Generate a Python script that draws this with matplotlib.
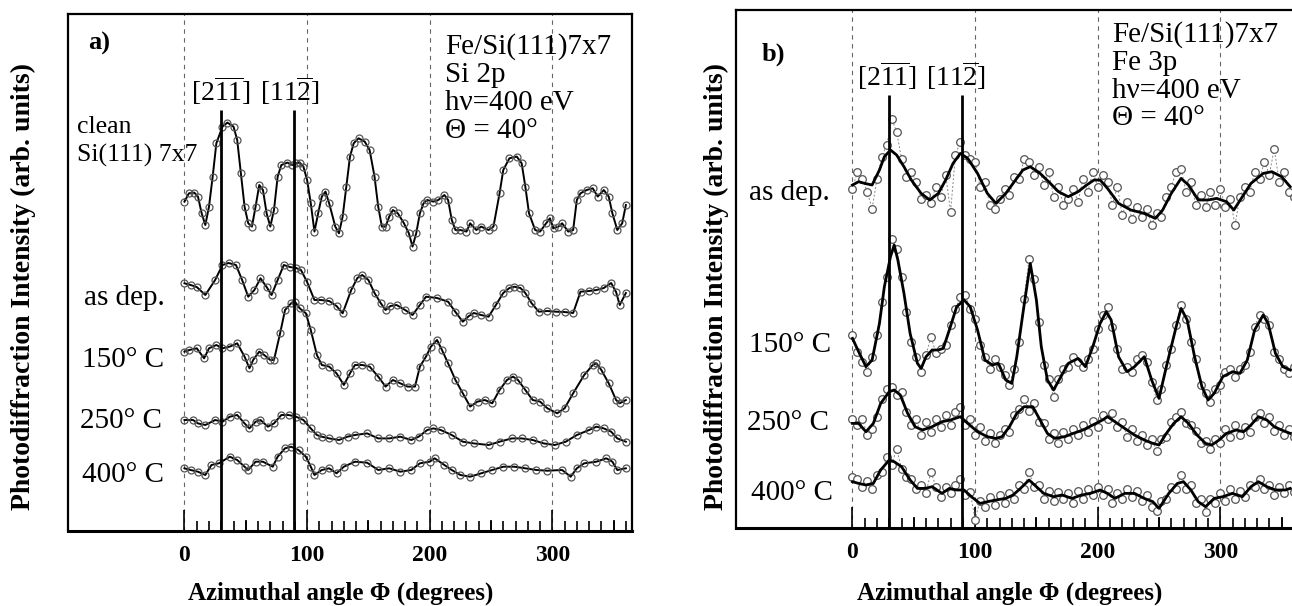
import matplotlib
matplotlib.use('Agg')
import matplotlib.pyplot as plt
import numpy as np
from matplotlib.transforms import blended_transform_factory

plt.rcParams['font.family'] = ['Liberation Serif', 'DejaVu Serif']
plt.rcParams['mathtext.fontset'] = 'custom'
plt.rcParams['mathtext.rm'] = 'Liberation Serif'
plt.rcParams['mathtext.it'] = 'Liberation Serif:italic'
plt.rcParams['mathtext.bf'] = 'Liberation Serif:bold'

# ---------------- data : panel a (Si 2p) ----------------
phi_a_clean = [0, 3.6, 8, 11, 14, 17, 20, 23, 26, 31, 35, 40, 43, 46, 49, 52, 55, 58, 61, 64, 67, 70, 73, 76, 79,
               84, 88, 91, 94, 97, 100, 103, 106, 109, 112, 115, 118, 123, 126, 129, 132, 135, 138, 142, 147, 151,
               155, 158, 161, 164, 167, 170, 174, 179, 183, 186, 189, 192, 195, 198, 203, 207, 212, 215, 218, 221,
               225, 230, 233, 238, 242, 248, 252, 257, 260, 265, 271, 275, 278, 281, 286, 290, 295, 298, 301, 305,
               308, 313, 317, 320, 323, 328, 333, 337, 342, 346, 349, 353, 357, 360]
int_a_clean = [31.7, 40, 40.7, 36.7, 20, 8.3, 26.7, 56.7, 90, 106.7, 110.7, 106.7, 93.3, 60, 26.7, 10, 6.7, 26.7,
               48.3, 43.3, 20, 6.7, 23.3, 56.7, 68.3, 70.7, 68.3, 70, 70.7, 66.7, 53.3, 30, 1.7, 20, 36.7, 41.7, 30,
               6.7, 0, 16.7, 46.7, 76.7, 90, 95, 91.7, 83.3, 56.7, 26.7, 6.7, 6.7, 16.7, 23.3, 20, 10, 0, -13.3, 0,
               20, 30, 33.3, 31.7, 33.3, 38.3, 33.3, 13.3, 3.3, 3.3, 1.7, 10, 3.3, 6.7, 3.3, 6.7, 40, 63.3, 75, 76.7,
               70, 46.7, 20, 3.3, 1.7, 10, 15, 5, 6.7, 10, 1.7, 3.3, 33.3, 40, 43.3, 45, 36.7, 43.3, 36.7, 20, 3.3,
               10, 28.3]

phi_a_asdep = [0, 5, 10, 17, 25, 31, 36, 42, 47, 52, 57, 62, 67, 71, 76, 81, 86, 91, 95, 100, 106, 111, 118, 124,
               129, 136, 141, 145, 150, 155, 160, 164, 168, 173, 180, 186, 192, 197, 206, 215, 221, 227, 232, 236,
               242, 248, 254, 260, 265, 269, 274, 278, 283, 289, 296, 303, 310, 317, 323, 330, 336, 342, 348, 352,
               355, 360]
int_a_asdep = [31.7, 30, 28, 20, 35, 50, 52, 50, 35, 18.3, 25, 36.7, 28, 20, 35, 50, 48, 47, 45, 33, 15, 15, 14, 9,
               1.7, 25, 37, 40, 35, 22, 12, 5, 9, 10, 5, 0, 10, 18.3, 17, 13.3, 3, -6.7, -1, 2, 0, -1.7, 10, 22, 27,
               28.3, 27, 22, 12, 3.3, 4, 3.3, 3, 2, 23.3, 24, 25, 27, 32, 23, 10, 22]

phi_a_150 = [0, 4, 10, 16, 20, 26, 31, 37, 43, 49, 53, 56, 61, 65, 70, 73, 78, 82, 87, 90, 94, 99, 103, 108, 112,
             118, 124, 130, 135, 139, 145, 151, 158, 164, 170, 176, 182, 188, 192, 197, 201, 206, 210, 215, 221, 227,
             233, 239, 245, 251, 257, 263, 268, 272, 278, 284, 290, 296, 304, 310, 317, 326, 333, 336, 340, 346, 352,
             355, 360]
int_a_150 = [61.7, 63.3, 65, 55, 65, 68.3, 65, 66.7, 70, 56.7, 45, 53.3, 61.7, 58.3, 53.3, 53.3, 80, 103.3, 110,
             111.7, 105, 100, 83.3, 58.3, 48.3, 46.7, 40, 28.3, 40, 48.3, 48.3, 46.7, 36.7, 26.7, 33.3, 30, 26.7,
             26.7, 46.7, 56.7, 66.7, 73.3, 63.3, 50, 33.3, 20, 6.7, 11.7, 13.3, 10, 23.3, 33.3, 36.7, 33.3, 23.3,
             13.3, 11.7, 5, 0, 5, 20, 38.3, 48.3, 50, 43.3, 30, 13.3, 10, 13.3]

phi_a_250 = [0, 7, 11, 17, 25, 31, 37, 43, 49, 53, 58, 62, 68, 73, 79, 85, 91, 97, 103, 108, 112, 118, 126, 133,
             139, 149, 158, 167, 176, 185, 191, 198, 203, 209, 218, 227, 236, 248, 257, 267, 275, 284, 293, 302, 311,
             320, 330, 336, 342, 348, 353, 360]
int_a_250 = [26.7, 26.7, 23.3, 21.7, 26.7, 25, 30, 31.7, 23.3, 18.3, 25, 26.7, 20, 23.3, 31.7, 31.7, 30, 26.7, 18.3,
             11.7, 10, 8.3, 6.7, 10, 11.7, 13.3, 8.3, 8.3, 10, 6.7, 10, 16.7, 18.3, 16.7, 11.7, 5, 3.3, 1.7, 5, 8.3,
             8.3, 6.7, 3.3, 1.7, 5, 11.7, 16.7, 20, 18.3, 15, 8.3, 5]

phi_a_400 = [0, 5, 11, 17, 22, 28, 37, 43, 49, 52, 58, 64, 72, 76, 82, 87, 93, 99, 103, 106, 112, 118, 124, 130,
             139, 149, 158, 167, 176, 185, 192, 200, 204, 212, 218, 225, 233, 242, 251, 260, 269, 278, 287, 296, 308,
             315, 320, 326, 336, 344, 349, 353, 360]
int_a_400 = [11.7, 10, 8.3, 5, 15, 16.7, 23.3, 20, 13.3, 10, 18.3, 18.3, 13.3, 23.3, 31.7, 33.3, 30, 23.3, 13.3, 5,
             10, 11.7, 6.7, 13.3, 18.3, 17.3, 10, 11.7, 8.3, 10, 16.7, 18.3, 21.7, 15, 10, 5, 3.3, 6.7, 10, 13.3,
             13.3, 11.7, 10, 9.3, 10, 3.3, 11.7, 16.7, 18.3, 21.7, 18.3, 10, 11.7]

# ---------------- data : panel b (Fe 3p) ----------------
# fitted (smooth) curves
phi_b_asdep = [0, 5, 10, 16, 22, 26, 31, 36, 42, 48, 56, 63, 70, 76, 82, 88, 94, 102, 110, 117, 125, 133, 139, 145,
               153, 160, 168, 176, 184, 191, 197, 202, 208, 217, 227, 238, 247, 253, 260, 268, 274, 282, 290, 297,
               305, 311, 318, 325, 335, 342, 350, 357]
fit_b_asdep = [31.7, 35, 33.3, 31.7, 46.7, 60, 66.7, 61.7, 50, 36.7, 23.3, 16.7, 23.3, 36.7, 53.3, 63.3, 58.3, 43.3,
               23.3, 13.3, 23.3, 36.7, 46.7, 50, 43.3, 35, 25, 20, 25, 31.7, 36.7, 36.7, 28.3, 13.3, 6.7, 3.3, -1.7,
               6.7, 23.3, 38.3, 31.7, 16.7, 16.7, 18.3, 15, 6.7, 20, 33.3, 43.3, 45, 40, 30]

phi_b_150 = [0, 5, 11, 16, 22, 26, 31, 34, 37, 42, 47, 53, 56, 60, 65, 70, 74, 79, 85, 91, 96, 102, 108, 114, 119,
             125, 130, 134, 139, 145, 150, 154, 159, 164, 170, 176, 184, 190, 196, 202, 207, 211, 217, 224, 230, 238,
             244, 250, 256, 264, 268, 273, 279, 285, 290, 295, 302, 310, 316, 322, 328, 335, 339, 345, 351, 357]
fit_b_150 = [58.3, 45, 30, 36.7, 73.3, 110, 140, 151.7, 136.7, 103.3, 63.3, 33.3, 28.3, 40, 46.7, 46.7, 48.3, 66.7,
             90, 96.7, 90, 66.7, 36.7, 31.7, 33.3, 16.7, 13.3, 40, 83.3, 133.3, 96.7, 50, 16.7, 6.7, 20, 33.3, 38.3,
             30, 50, 73.3, 85, 76.7, 40, 25, 30, 40, 16.7, -1.7, 30, 70, 88.3, 76.7, 40, 10, -3.3, 3.3, 20, 25, 23.3,
             36.7, 66.7, 81.7, 73.3, 43.3, 30, 26.7]

phi_b_250 = [0, 5, 11, 17, 23, 30, 34, 39, 45, 51, 57, 65, 73, 80, 88, 94, 102, 110, 117, 122, 128, 134, 140, 147,
             153, 159, 165, 173, 180, 188, 196, 204, 208, 214, 222, 230, 238, 245, 250, 256, 262, 268, 274, 281, 288,
             293, 299, 305, 313, 319, 325, 331, 338, 344, 350, 357]
fit_b_250 = [23.3, 23.3, 15, 23.3, 43.3, 55, 56.7, 51.7, 33.3, 20, 16.7, 20, 25, 26.7, 30, 23.3, 15, 10, 8.3, 10, 20,
             33.3, 40, 40, 26.7, 13.3, 8.3, 10, 13.3, 16.7, 21.7, 26.7, 30, 25, 18.3, 11.7, 6.7, 3.3, 1.7, 13.3, 23.3,
             30, 23.3, 11.7, 3.3, 1.7, 6.7, 13.3, 16.7, 15, 21.7, 30, 26.7, 20, 16.7, 13.3]

phi_b_400 = [0, 5, 11, 17, 23, 30, 34, 40, 47, 53, 59, 65, 73, 79, 85, 91, 97, 104, 110, 117, 125, 131, 137, 144,
             150, 156, 164, 171, 179, 187, 194, 202, 208, 214, 222, 230, 238, 245, 250, 258, 265, 270, 276, 282, 288,
             295, 302, 310, 318, 325, 331, 338, 345, 353, 357]
fit_b_400 = [25, 23.3, 21.7, 23.3, 36.7, 46.7, 45, 40, 26.7, 18.3, 18.3, 20, 13.3, 18.3, 16.7, 16.7, 10, 3.3, 5, 6.7,
             8.3, 11.7, 18.3, 26.7, 20, 13.3, 10, 11.7, 8.3, 11.7, 13.3, 16.7, 13.3, 8.3, 13.3, 13.3, 8.3, 5, -1.7,
             13.3, 23.3, 25, 16.7, 5, 0, 8.3, 10, 13.3, 10, 20, 25, 20, 16.7, 16.7, 18.3]

# raw measured points (4 degree sampling)
phi_b_raw = np.arange(0, 361, 4)
raw_b_asdep = [28, 45, 38, 25, 8, 38, 60, 72, 98, 85,
               58, 40, 45, 35, 18, 22, 14, 30, 20, 42,
               5, 62, 75, 62, 58, 55, 30, 35, 12, 8,
               18, 28, 22, 40, 38, 58, 55, 42, 50, 32,
               45, 20, 30, 12, 18, 28, 15, 38, 25, 45,
               30, 42, 35, 12, 30, 2, 15, -2, 10, 0,
               8, -8, 4, 0, 20, 30, 45, 48, 25, 35,
               12, 22, 10, 25, 12, 28, 10, 18, -8, 20,
               30, 25, 45, 38, 55, 42, 68, 35, 45, 25,
               20]
raw_b_150 = [62, 45, 35, 25, 40, 62, 95, 120, 158, 148,
             120, 85, 55, 40, 25, 42, 60, 44, 48, 52,
             72, 88, 100, 102, 88, 78, 52, 40, 28, 38,
             30, 22, 12, 28, 55, 98, 138, 118, 75, 32,
             18, 0, 18, 28, 30, 40, 35, 30, 38, 48,
             68, 82, 90, 70, 48, 28, 30, 25, 38, 42,
             35, 15, -3, 8, 32, 48, 72, 92, 78, 55,
             38, 12, 4, -5, 8, 12, 25, 28, 20, 28,
             32, 45, 70, 82, 78, 72, 45, 38, 28, 24,
             30]
raw_b_250 = [28, 22, 28, 12, 18, 30, 48, 58, 60, 52,
             55, 35, 22, 28, 12, 25, 15, 28, 20, 32,
             22, 35, 40, 22, 28, 12, 20, 6, 14, 4,
             12, 18, 15, 32, 38, 48, 36, 44, 25, 24,
             8, 14, 4, 15, 8, 18, 12, 22, 15, 26,
             20, 32, 28, 34, 20, 25, 10, 18, 6, 12,
             2, 8, -4, 8, 10, 25, 30, 35, 24, 22,
             16, 4, 6, -2, 8, 4, 18, 10, 22, 12,
             20, 15, 30, 34, 24, 30, 16, 22, 12, 18,
             10]
raw_b_400 = [30, 28, 20, 26, 18, 32, 35, 50, 42, 58,
             38, 30, 28, 18, 22, 14, 35, 20, 10, 20,
             14, 22, 28, 12, 15, -13, 6, 0, 10, 2,
             12, 4, 14, 8, 22, 18, 35, 20, 22, 8,
             16, 6, 15, 8, 14, 4, 16, 8, 18, 12,
             20, 12, 18, 4, 14, 8, 18, 10, 16, 6,
             12, 0, -4, 6, 8, 20, 18, 32, 18, 22,
             4, 8, -5, 8, 4, 14, 6, 18, 8, 16,
             10, 22, 20, 28, 18, 22, 12, 20, 14, 22,
             15]

labels_a = ['as dep.', '150° C', '250° C', '400° C']
labels_b = ['as dep.', '150° C', '250° C', '400° C']
major_ticks = [0, 100, 200, 300]
dir_angles = [30, 89]

# ---------------- figure ----------------
W, H = 1292, 606
fig = plt.figure(figsize=(W / 100, H / 100), dpi=100)


def fx(x):
    return x / W


def fy(y):
    return 1 - y / H


def style_axes(ax, ytop):
    ax.set_xlim(-95, 365)
    ax.set_ylim(0, ytop)
    for s in ax.spines.values():
        s.set_linewidth(1.6)
    ax.spines['bottom'].set_linewidth(2.2)
    ax.set_yticks([])
    ax.set_xticks(major_ticks)
    ax.set_xticklabels([str(t) for t in major_ticks], fontweight='bold', fontsize=17)
    ax.set_xticks([t for t in range(0, 361, 10) if t not in major_ticks], minor=True)
    ax.tick_params(axis='x', which='major', direction='in', length=15, width=1.2, pad=10)
    ax.tick_params(axis='x', which='minor', direction='in', length=7, width=1.2)
    trans = blended_transform_factory(ax.transData, ax.transAxes)
    ax.vlines([50, 150, 250, 350], 0, 11 / (ax.bbox.height), transform=trans, color='k', lw=1.2)
    for t in major_ticks:
        ax.axvline(t, color='#666666', lw=0.8, ls=(0, (4, 4)), zorder=1)


# panel a
axa = fig.add_axes([fx(68), fy(531), 564 / W, 517 / H])
style_axes(axa, 517)
series_a = [(phi_a_clean, int_a_clean, 297.7), (phi_a_asdep, int_a_asdep, 216.0),
            (phi_a_150, int_a_150, 117.7), (phi_a_250, int_a_250, 84.3), (phi_a_400, int_a_400, 51.0)]
for ph, val, off in series_a:
    axa.plot(ph, np.asarray(val) + off, '-', color='k', lw=1.4, marker='o', ms=5, mfc='none',
             mec='#555555', mew=0.9, zorder=3)
axa.vlines(dir_angles, 0, 421, color='k', lw=2, zorder=4)

# panel b (right edge runs off the page as in the original)
axb = fig.add_axes([fx(736), fy(528), 564 / W, 518 / H])
style_axes(axb, 518)
series_b = [(phi_b_asdep, fit_b_asdep, raw_b_asdep, 311.3), (phi_b_150, fit_b_150, raw_b_150, 131.3),
            (phi_b_250, fit_b_250, raw_b_250, 81.3), (phi_b_400, fit_b_400, raw_b_400, 21.3)]
for ph, fit, raw, off in series_b:
    axb.plot(phi_b_raw, np.asarray(raw) + off, ls=(0, (2, 2)), color='#888888', lw=0.7, marker='o', ms=5.5,
             mfc='white', mec='#555555', mew=0.9, zorder=2)
    axb.plot(ph, np.asarray(fit) + off, '-', color='k', lw=2, zorder=3)
axb.vlines(dir_angles, 0, 433, color='k', lw=2, zorder=4)

# axis titles
for xc in (341, 1010):
    fig.text(fx(xc), fy(593), 'Azimuthal angle Φ (degrees)', ha='center', va='center',
             fontweight='bold', fontsize=18)
fig.text(fx(23), fy(287), 'Photodiffraction Intensity (arb. units)', rotation=90, ha='center',
         va='center', fontweight='bold', fontsize=20)
fig.text(fx(716), fy(287), 'Photodiffraction Intensity (arb. units)', rotation=90, ha='center',
         va='center', fontweight='bold', fontsize=20)

# panel a annotations
fig.text(fx(88), fy(50), 'a)', fontsize=19, fontweight='bold', va='baseline')
fig.text(fx(76.6), fy(133.3), 'clean', fontsize=18.5, va='baseline')
fig.text(fx(76.6), fy(161.7), 'Si(111) 7x7', fontsize=18.5, va='baseline')
for lab, yb, xl in zip(labels_a, [305, 366.7, 428.3, 481.7], [84, 82, 80, 81.5]):
    fig.text(fx(xl), fy(yb), lab, fontsize=21, va='baseline')
fig.text(fx(191), fy(101), r'$[2\overline{11}]$', fontsize=20, va='baseline')
fig.text(fx(260), fy(101), r'$[11\overline{2}]$', fontsize=20, va='baseline')
for s, yb in zip(['Fe/Si(111)7x7', 'Si 2p', 'hν=400 eV', 'Θ = 40°'], [53.3, 81.7, 110, 138]):
    fig.text(fx(444.8), fy(yb), s, fontsize=21, va='baseline')

# panel b annotations
fig.text(fx(762), fy(61), 'b)', fontsize=19, fontweight='bold', va='baseline')
for lab, yb, xl in zip(labels_b, [200, 351.7, 430, 500], [749, 749, 747, 751]):
    fig.text(fx(xl), fy(yb), lab, fontsize=21, va='baseline')
fig.text(fx(857), fy(86), r'$[2\overline{11}]$', fontsize=20, va='baseline')
fig.text(fx(926.5), fy(86), r'$[11\overline{2}]$', fontsize=20, va='baseline')
for s, yb in zip(['Fe/Si(111)7x7', 'Fe 3p', 'hν=400 eV', 'Θ = 40°'], [41.7, 70, 97.5, 125]):
    fig.text(fx(1112), fy(yb), s, fontsize=21, va='baseline')

fig.savefig('out.png', dpi=100)
